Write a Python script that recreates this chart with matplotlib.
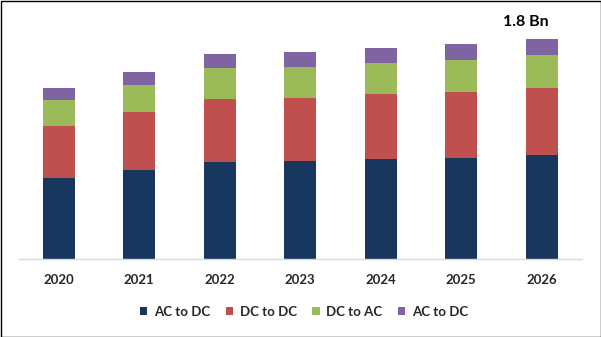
import matplotlib
matplotlib.use("Agg")
import matplotlib.pyplot as plt
from matplotlib.patches import Rectangle
import numpy as np

years = ["2020", "2021", "2022", "2023", "2024", "2025", "2026"]
series_names = ["AC to DC", "DC to DC", "DC to AC", "AC to DC"]
ac_dc = [0.66, 0.73, 0.79, 0.80, 0.82, 0.83, 0.85]
dc_dc = [0.43, 0.47, 0.52, 0.52, 0.53, 0.54, 0.55]
dc_ac = [0.21, 0.22, 0.25, 0.25, 0.25, 0.26, 0.27]
ac_dc2 = [0.10, 0.11, 0.12, 0.12, 0.13, 0.13, 0.13]
colors = ["#17375E", "#C0504D", "#9BBB59", "#8064A2"]
annotation = "1.8 Bn"

plt.rcParams['font.family'] = ['Lato', 'DejaVu Sans']

fig = plt.figure(figsize=(6.01, 3.37), dpi=100)
ax = fig.add_axes([18.5/601, 78/337, 563.5/601, 249/337])

x = np.arange(len(years))
bottom = np.zeros(len(years))
handles = []
for vals, name, c in zip([ac_dc, dc_dc, dc_ac, ac_dc2], series_names, colors):
    b = ax.bar(x, vals, width=0.4, bottom=bottom, color=c, label=name)
    handles.append(b)
    bottom += np.array(vals)

ax.set_xlim(-0.5, len(years) - 0.5)
ax.set_ylim(0, 1.8 * 249 / 220)
ax.set_yticks([])
for s in ["top", "right", "left"]:
    ax.spines[s].set_visible(False)
ax.spines["bottom"].set_color("#D9D9D9")
ax.spines["bottom"].set_linewidth(1)
ax.set_xticks(x)
ax.set_xticklabels(years, fontsize=9.5, fontweight="bold", color="#262626")
ax.tick_params(axis="x", length=0, pad=11)

ax.annotate(annotation, xy=(x[-1], bottom[-1]), xytext=(-11.5, 7), textcoords="offset points",
            ha="center", va="bottom", fontsize=11.5, fontweight="bold", color="#000000")

fig.legend(handles=handles, labels=series_names, loc="center", bbox_to_anchor=(304/601, 1 - 312/337),
           ncol=4, frameon=False, prop={"size": 9.5, "weight": "bold"},
           handlelength=0.55, handleheight=0.55,
           handletextpad=0.5, columnspacing=1.2, labelcolor="#262626")

fig.patches.append(Rectangle((0.5/601, 0.5/337), 1 - 1/601, 1 - 1/337, transform=fig.transFigure,
                             fill=False, edgecolor="#000000", linewidth=1))

fig.savefig("out.png", dpi=100)
